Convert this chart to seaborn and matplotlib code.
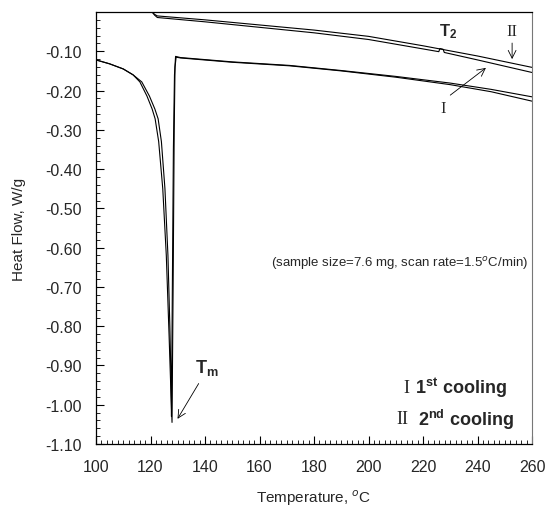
import matplotlib
matplotlib.use("Agg")
import matplotlib.pyplot as plt
import seaborn as sns
import pandas as pd
from matplotlib.ticker import MultipleLocator

# lower branch (melting peak), run I and run II
temp_low_1 = [100, 105, 110, 113.6, 116.1, 118.7, 120.6, 121.7, 123.0, 124.5, 125.8, 126.8, 127.5, 127.9,
              128.3, 128.7, 129.0, 129.4, 131, 150, 171, 190, 210, 230, 245, 260]
hf_low_1 = [-0.122, -0.132, -0.145, -0.160, -0.178, -0.214, -0.247, -0.272, -0.33, -0.45, -0.62, -0.82, -0.97, -1.045,
            -0.70, -0.30, -0.14, -0.115, -0.117, -0.128, -0.137, -0.150, -0.166, -0.185, -0.203, -0.227]
temp_low_2 = [100, 105, 110, 113.6, 116.8, 119.6, 121.6, 122.8, 124.0, 125.3, 126.4, 127.1, 127.5, 127.7,
              128.0, 128.4, 128.8, 129.2, 131, 150, 171, 190, 210, 230, 245, 260]
hf_low_2 = [-0.122, -0.132, -0.145, -0.160, -0.178, -0.214, -0.247, -0.272, -0.33, -0.45, -0.62, -0.80, -0.93, -1.03,
            -0.72, -0.35, -0.16, -0.113, -0.116, -0.127, -0.136, -0.149, -0.164, -0.181, -0.197, -0.216]

# upper branch, run I and run II (small kink near T2)
temp_up_1 = [120.6, 121.5, 122.5, 140, 160, 180, 200, 220, 225.8, 226.2, 227.4, 227.8, 240, 260]
hf_up_1 = [0.0, -0.008, -0.014, -0.025, -0.039, -0.053, -0.070, -0.094, -0.101, -0.093, -0.095, -0.103, -0.122, -0.154]
temp_up_2 = [120.6, 121.5, 122.5, 140, 160, 180, 200, 220, 240, 260]
hf_up_2 = [0.0, -0.006, -0.010, -0.020, -0.033, -0.046, -0.062, -0.086, -0.112, -0.141]

xticks = list(range(100, 261, 20))
yticks = [-1.10, -1.00, -0.90, -0.80, -0.70, -0.60, -0.50, -0.40, -0.30, -0.20, -0.10]

sns.set_style("ticks")
plt.rcParams["font.family"] = ["Liberation Sans", "DejaVu Sans"]
plt.rcParams["mathtext.fontset"] = "custom"
plt.rcParams["mathtext.rm"] = "Liberation Sans"
plt.rcParams["mathtext.bf"] = "Liberation Sans:bold"

fig = plt.figure(figsize=(5.47, 5.10), dpi=100)
ax = fig.add_axes([96 / 547, 1 - 445 / 510, 436 / 547, 432 / 510])

for t, h in [(temp_low_1, hf_low_1), (temp_low_2, hf_low_2), (temp_up_1, hf_up_1), (temp_up_2, hf_up_2)]:
    d = pd.DataFrame({"T": t, "HF": h})
    sns.lineplot(data=d, x="T", y="HF", ax=ax, color="black", lw=0.8, sort=False, estimator=None)

ax.set_xlim(100, 260)
ax.set_ylim(-1.10, 0.0)
ax.set_xticks(xticks)
ax.set_yticks(yticks)
ax.set_yticklabels([f"{v:.2f}" for v in yticks])
ax.xaxis.set_minor_locator(MultipleLocator(2))
ax.yaxis.set_minor_locator(MultipleLocator(0.02))
ax.tick_params(which="both", direction="in", top=False, right=False, color="black")
ax.tick_params(which="major", length=6, width=0.8, labelsize=11.5)
ax.tick_params(which="minor", length=3, width=0.6)
ax.tick_params(axis="y", pad=10)
ax.tick_params(axis="x", pad=11)
for s in ["left", "bottom", "top"]:
    ax.spines[s].set_color("black")
    ax.spines[s].set_linewidth(0.9)
ax.spines["right"].set_color("#777777")
ax.spines["right"].set_linewidth(0.8)

ax.set_xlabel("Temperature, $^{o}$C", fontsize=11)
ax.set_ylabel("Heat Flow, W/g", fontsize=11)
ax.xaxis.set_label_coords(0.5, -0.1)
ax.yaxis.set_label_coords(-0.16, 0.5)

ax.text(211.2, -0.637, "(sample size=7.6 mg, scan rate=1.5$^{o}$C/min)", fontsize=9.5, ha="center", va="center")

arrow = dict(arrowstyle="->", color="black", lw=0.6, mutation_scale=14)
ax.annotate("", xy=(129.4, -1.042), xytext=(138.2, -0.94), arrowprops=arrow)
ax.text(136.5, -0.905, r"$\mathbf{T_m}$", fontsize=13, ha="left", va="center")
ax.text(229.2, -0.048, r"$\mathbf{T_2}$", fontsize=12, ha="center", va="center")
ax.annotate("", xy=(252.7, -0.127), xytext=(252.7, -0.072), arrowprops=arrow)
ax.text(252.7, -0.048, "II", fontsize=12, family="Liberation Serif", ha="center", va="center")
ax.annotate("", xy=(243.9, -0.138), xytext=(229.2, -0.216), arrowprops=arrow)
ax.text(227.3, -0.245, "I", fontsize=12, family="Liberation Serif", ha="center", va="center")

ax.text(215.0, -0.955, "I", fontsize=13, family="Liberation Serif", ha="right", va="center")
ax.text(217.1, -0.955, r"$\mathbf{1^{st}\ cooling}$", fontsize=13, ha="left", va="center")
ax.text(214.5, -1.036, "II", fontsize=13, family="Liberation Serif", ha="right", va="center")
ax.text(218.2, -1.036, r"$\mathbf{2^{nd}\ cooling}$", fontsize=13, ha="left", va="center")

fig.savefig("out.png", dpi=100)
